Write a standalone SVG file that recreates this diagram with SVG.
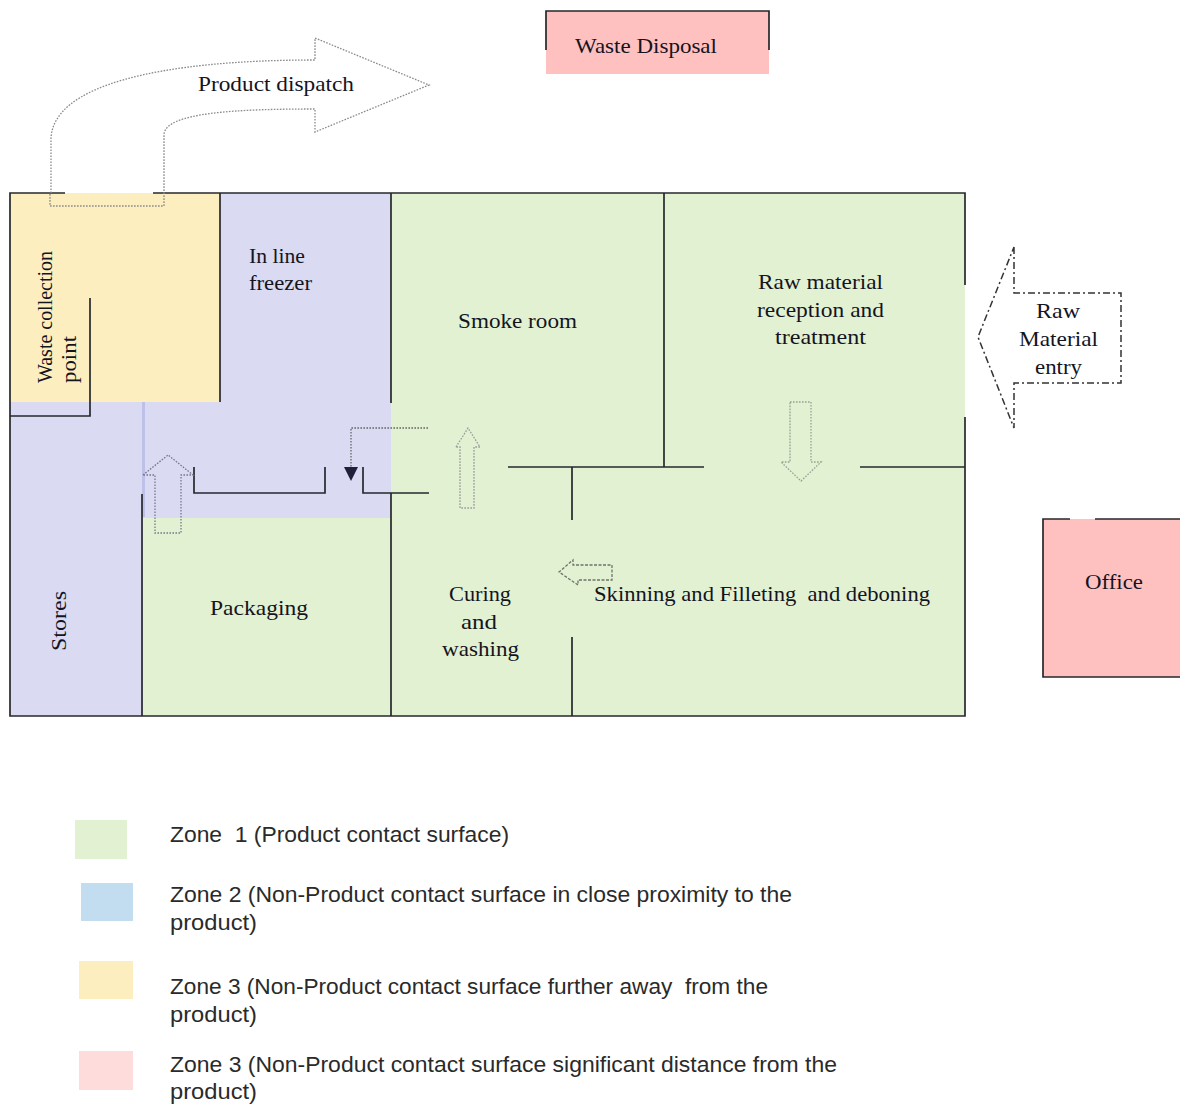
<svg xmlns="http://www.w3.org/2000/svg" width="1180" height="1104" viewBox="0 0 1180 1104">
<style>
.w{fill:none;stroke:#26282c;stroke-width:1.7}
.d{fill:none;stroke:#8a8a8a;stroke-width:1.3;stroke-dasharray:1.6 1.4}
.t{font-family:"Liberation Serif","Times New Roman",serif;font-size:22px;fill:#14141e}
.m{text-anchor:middle}
.l{font-family:"Liberation Sans",Arial,sans-serif;font-size:22.5px;fill:#2a2a2a}
</style>
<rect width="1180" height="1104" fill="#fff"/>
<g id="zones">
<rect x="10" y="193" width="955" height="523" fill="#e3f1d3"/>
<rect x="10" y="193" width="210" height="209" fill="#fdeebf"/>
<rect x="220" y="193" width="171" height="325" fill="#dadaf2"/>
<rect x="143" y="402" width="248" height="116" fill="#dadaf2"/>
<rect x="10" y="402" width="133" height="314" fill="#dadaf2"/>
<rect x="142" y="402" width="3" height="115" fill="#bfc0ea"/>
</g>
<g id="walls">
<path class="w" d="M65 193H10V716H965V417M965 285V193H153M220 193V402M391 193V403M391 493V716M664 193V467M90 298V416H10M142 494V716M194 467V493H325V467M363 467V493H429M508 467H704M860 467H965M572 467V520M572 637V716"/>
</g>
<g id="waste-disposal">
<rect x="546" y="11" width="223" height="63" fill="#ffc0c0"/>
<path class="w" d="M546 50V11H769V50"/>
<text class="t" x="575" y="53" textLength="142" lengthAdjust="spacingAndGlyphs">Waste Disposal</text>
</g>
<g id="office">
<path d="M1043 519H1180V677H1043Z" fill="#ffc0c0"/>
<path class="w" d="M1070 519H1043V677H1180M1095 519H1180"/>
<text class="t" x="1085" y="589" textLength="58" lengthAdjust="spacingAndGlyphs">Office</text>
</g>
<g id="connectors">
<path class="d" d="M51 193V140C51 85 160 60 315 60V38L429 85L315 132V109C240 109 164 112 164 135V206H50V193"/>
<path class="d" style="stroke:#666" d="M428 428H351V468"/>
<path d="M344 467H358L351 481Z" fill="#20203a"/>
<path class="d" style="stroke:#77778a" d="M143 475L168 455L193 475H181V533H155V475Z"/>
<path class="d" style="stroke:#9a9a9a" d="M456 447L468 428L480 447H474V508H460V447Z"/>
<path class="d" style="stroke:#9a9f94" d="M790 402H811V462H821L801 481L781 462H790Z"/>
<path class="d" style="stroke:#6f736b;stroke-dasharray:3 1.5" d="M612 565V580H578V585L559 572L573 560V565Z"/>
<path fill="none" stroke="#333" stroke-width="1.5" stroke-dasharray="7 3 2 3" d="M1014 247V293H1121V383H1014V428L978 337Z"/>
</g>
<g id="labels">
<text class="t" x="198" y="91" textLength="156" lengthAdjust="spacingAndGlyphs">Product dispatch</text>
<text class="t" x="249" y="263" textLength="56" lengthAdjust="spacingAndGlyphs">In line</text>
<text class="t" x="249" y="290" textLength="63" lengthAdjust="spacingAndGlyphs">freezer</text>
<text class="t" x="458" y="328" textLength="119" lengthAdjust="spacingAndGlyphs">Smoke room</text>
<text class="t" x="758" y="289" textLength="125" lengthAdjust="spacingAndGlyphs">Raw material</text>
<text class="t" x="757" y="317" textLength="127" lengthAdjust="spacingAndGlyphs">reception and</text>
<text class="t" x="775" y="344" textLength="91" lengthAdjust="spacingAndGlyphs">treatment</text>
<text class="t" x="1036" y="318" textLength="44" lengthAdjust="spacingAndGlyphs">Raw</text>
<text class="t" x="1019" y="346" textLength="79" lengthAdjust="spacingAndGlyphs">Material</text>
<text class="t" x="1035" y="374" textLength="47" lengthAdjust="spacingAndGlyphs">entry</text>
<text class="t" transform="translate(52 383) rotate(-90)" textLength="132" lengthAdjust="spacingAndGlyphs">Waste collection</text>
<text class="t" transform="translate(76 383) rotate(-90)" textLength="47" lengthAdjust="spacingAndGlyphs">point</text>
<text class="t" transform="translate(66 651) rotate(-90)" textLength="60" lengthAdjust="spacingAndGlyphs">Stores</text>
<text class="t" x="210" y="615" textLength="98" lengthAdjust="spacingAndGlyphs">Packaging</text>
<text class="t" x="449" y="601" textLength="62" lengthAdjust="spacingAndGlyphs">Curing</text>
<text class="t" x="461" y="629" textLength="36" lengthAdjust="spacingAndGlyphs">and</text>
<text class="t" x="442" y="656" textLength="77" lengthAdjust="spacingAndGlyphs">washing</text>
<text class="t" x="594" y="601" textLength="336" lengthAdjust="spacingAndGlyphs" xml:space="preserve">Skinning and Filleting  and deboning</text>
</g>
<g id="legend">
<rect x="75" y="820" width="52" height="39" fill="#e3f1d3"/>
<rect x="81" y="883" width="52" height="38" fill="#c2dcf0"/>
<rect x="79" y="961" width="54" height="38" fill="#fdeebf"/>
<rect x="79" y="1051" width="54" height="39" fill="#ffdcdc"/>
<text class="l" x="170" y="842" textLength="339" lengthAdjust="spacingAndGlyphs" xml:space="preserve">Zone  1 (Product contact surface)</text>
<text class="l" x="170" y="902" textLength="622" lengthAdjust="spacingAndGlyphs">Zone 2 (Non-Product contact surface in close proximity to the</text>
<text class="l" x="170" y="930" textLength="87" lengthAdjust="spacingAndGlyphs">product)</text>
<text class="l" x="170" y="994" textLength="598" lengthAdjust="spacingAndGlyphs" xml:space="preserve">Zone 3 (Non-Product contact surface further away  from the</text>
<text class="l" x="170" y="1022" textLength="87" lengthAdjust="spacingAndGlyphs">product)</text>
<text class="l" x="170" y="1072" textLength="667" lengthAdjust="spacingAndGlyphs">Zone 3 (Non-Product contact surface significant distance from the</text>
<text class="l" x="170" y="1099" textLength="87" lengthAdjust="spacingAndGlyphs">product)</text>
</g>
</svg>
